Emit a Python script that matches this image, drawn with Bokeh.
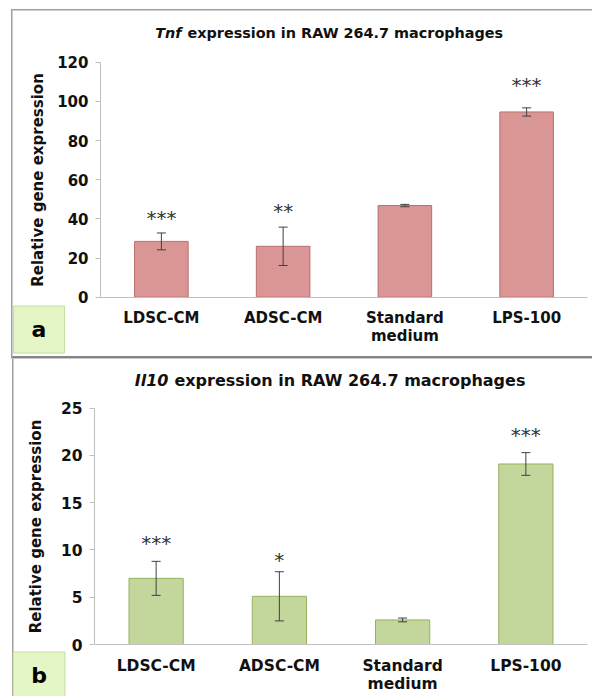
from bokeh.plotting import figure
from bokeh.layouts import column
from bokeh.models import (ColumnDataSource, Whisker, TeeHead, Label, FixedTicker, Range1d)
from bokeh.core.properties import value
from bokeh.embed import file_html
from bokeh.resources import INLINE

# ---------------- data ----------------
categories = ["LDSC-CM", "ADSC-CM", "Standard\nmedium", "LPS-100"]

tnf_mean = [28.5, 26.0, 46.8, 94.6]
tnf_err = [4.3, 9.8, 0.6, 2.1]
tnf_stars = ["***", "**", "", "***"]
tnf_star_y = [41.4, 45.0, 0.0, 109.3]
tnf_ticks = [0, 20, 40, 60, 80, 100, 120]

il10_mean = [7.0, 5.1, 2.6, 19.1]
il10_err = [1.8, 2.6, 0.2, 1.2]
il10_stars = ["***", "*", "", "***"]
il10_star_y = [10.9, 9.2, 0.0, 22.4]
il10_ticks = [0, 5, 10, 15, 20, 25]

FONT_NAME = "DejaVu Sans"
FONT = value(FONT_NAME)
AXIS_GREY = "#bfbfbf"
TEXT = "#111111"


def lines_css(parts):
    segs = [f"linear-gradient({c},{c}) {x}px {y}px / {w}px {h}px no-repeat"
            for (c, x, y, w, h) in parts]
    return ", ".join(segs + ["white"])


def make_panel(mean, err, stars, star_y, ticks, height, x_rng, y_rng,
               fill, line, gene, rest, title_x, title_y, title_size, tick_size,
               ylabel_standoff, xlabel_standoff, letter, letter_x, letter_y, css_lines):
    pos = [i + 0.5 for i in range(len(categories))]
    src = ColumnDataSource(dict(
        x=pos, top=mean,
        upper=[m + e for m, e in zip(mean, err)],
        lower=[m - e for m, e in zip(mean, err)],
        stars=stars, star_y=star_y,
    ))
    p = figure(x_range=Range1d(*x_rng), y_range=Range1d(*y_rng),
               width=592, height=height, output_backend="svg", toolbar_location=None,
               title=None, min_border_left=0, min_border_right=0,
               min_border_top=0, min_border_bottom=0,
               styles={"background": lines_css(css_lines)})
    p.background_fill_color = None
    p.border_fill_color = None
    p.outline_line_color = None
    p.grid.visible = False

    p.vbar(x="x", top="top", width=0.44, source=src, fill_color=fill,
           line_color=line, line_width=1)

    wh = Whisker(base="x", upper="upper", lower="lower", source=src, level="overlay",
                 line_color="#404040", line_width=1,
                 upper_head=TeeHead(size=9, line_color="#404040", line_width=1),
                 lower_head=TeeHead(size=9, line_color="#404040", line_width=1))
    p.add_layout(wh)

    p.text(x="x", y="star_y", text="stars", source=src, text_font=FONT,
           text_font_size="20px", text_align="center", text_baseline="middle",
           text_color="#333333", y_offset=2)

    # y axis (crossing at the category origin)
    yax = p.yaxis[0]
    yax.fixed_location = 0
    yax.ticker = FixedTicker(ticks=ticks)
    yax.bounds = (ticks[0], ticks[-1])
    yax.axis_line_color = AXIS_GREY
    yax.major_tick_line_color = AXIS_GREY
    yax.major_tick_in = 0
    yax.major_tick_out = 5
    yax.minor_tick_line_color = None
    yax.major_label_standoff = 7
    yax.major_label_text_font = FONT_NAME
    yax.major_label_text_font_style = "bold"
    yax.major_label_text_font_size = tick_size
    yax.major_label_text_color = TEXT
    yax.axis_label = "Relative gene expression"
    yax.axis_label_text_font = FONT_NAME
    yax.axis_label_text_font_style = "bold"
    yax.axis_label_text_font_size = "15px"
    yax.axis_label_text_color = TEXT
    yax.axis_label_standoff = ylabel_standoff

    # x axis (categories)
    xax = p.xaxis[0]
    xax.fixed_location = 0
    xax.ticker = FixedTicker(ticks=pos)
    xax.major_label_overrides = {x: c for x, c in zip(pos, categories)}
    xax.bounds = (0, len(categories))
    xax.axis_line_color = AXIS_GREY
    xax.major_tick_line_color = None
    xax.minor_tick_line_color = None
    xax.major_label_standoff = xlabel_standoff
    xax.major_label_text_font = FONT_NAME
    xax.major_label_text_font_style = "bold"
    xax.major_label_text_font_size = tick_size
    xax.major_label_text_line_height = 1.0
    xax.major_label_text_color = TEXT

    # title (italic gene name + bold rest)
    p.add_layout(Label(x=title_x, y=title_y, text=gene, text_font=FONT_NAME,
                       text_font_style="bold italic", text_font_size=title_size,
                       text_align="right", text_baseline="alphabetic", text_color=TEXT))
    p.add_layout(Label(x=title_x, y=title_y, x_offset=6, text=rest,
                       text_font=FONT_NAME, text_font_style="bold",
                       text_font_size=title_size, text_align="left",
                       text_baseline="alphabetic", text_color=TEXT))

    # panel letter
    p.add_layout(Label(x=letter_x, y=letter_y, text=letter, text_font=FONT_NAME,
                       text_font_style="bold", text_font_size="22px",
                       text_align="center", text_baseline="middle",
                       text_color="#000000",
                       background_fill_color="#e4f5c6",
                       border_line_color="#c2e09a", border_line_width=1,
                       padding=(18, 11)))
    return p


pa = make_panel(tnf_mean, tnf_err, tnf_stars, tnf_star_y, tnf_ticks, 358,
                (-0.8214, 4.0411), (-31.31, 151.53),
                "#d99694", "#b86f6d", "Tnf",
                "expression in RAW 264.7 macrophages", 0.665, 134.7, "14.4px", "15px",
                7, 6, "a", -0.505, -16.5,
                [("#a0a0a0", 11, 9, 581, 1.5), ("#a0a0a0", 11, 9, 1.5, 349),
                 ("#858585", 11, 355.5, 581, 2)])

pb = make_panel(il10_mean, il10_err, il10_stars, il10_star_y, il10_ticks, 338,
                (-0.7627, 4.0406), (-5.501, 30.26),
                "#c3d69b", "#98b25c", "Il10",
                "expression in RAW 264.7 macrophages", 0.60, 27.98, "16px", "15.5px",
                13, 6, "b", -0.450, -3.28,
                [("#c8c8c8", 11, 0, 581, 1), ("#a0a0a0", 11.5, 0, 1.5, 338)])

layout = column(pa, pb, spacing=0)
open("out.html", "w").write(file_html(layout, INLINE))
